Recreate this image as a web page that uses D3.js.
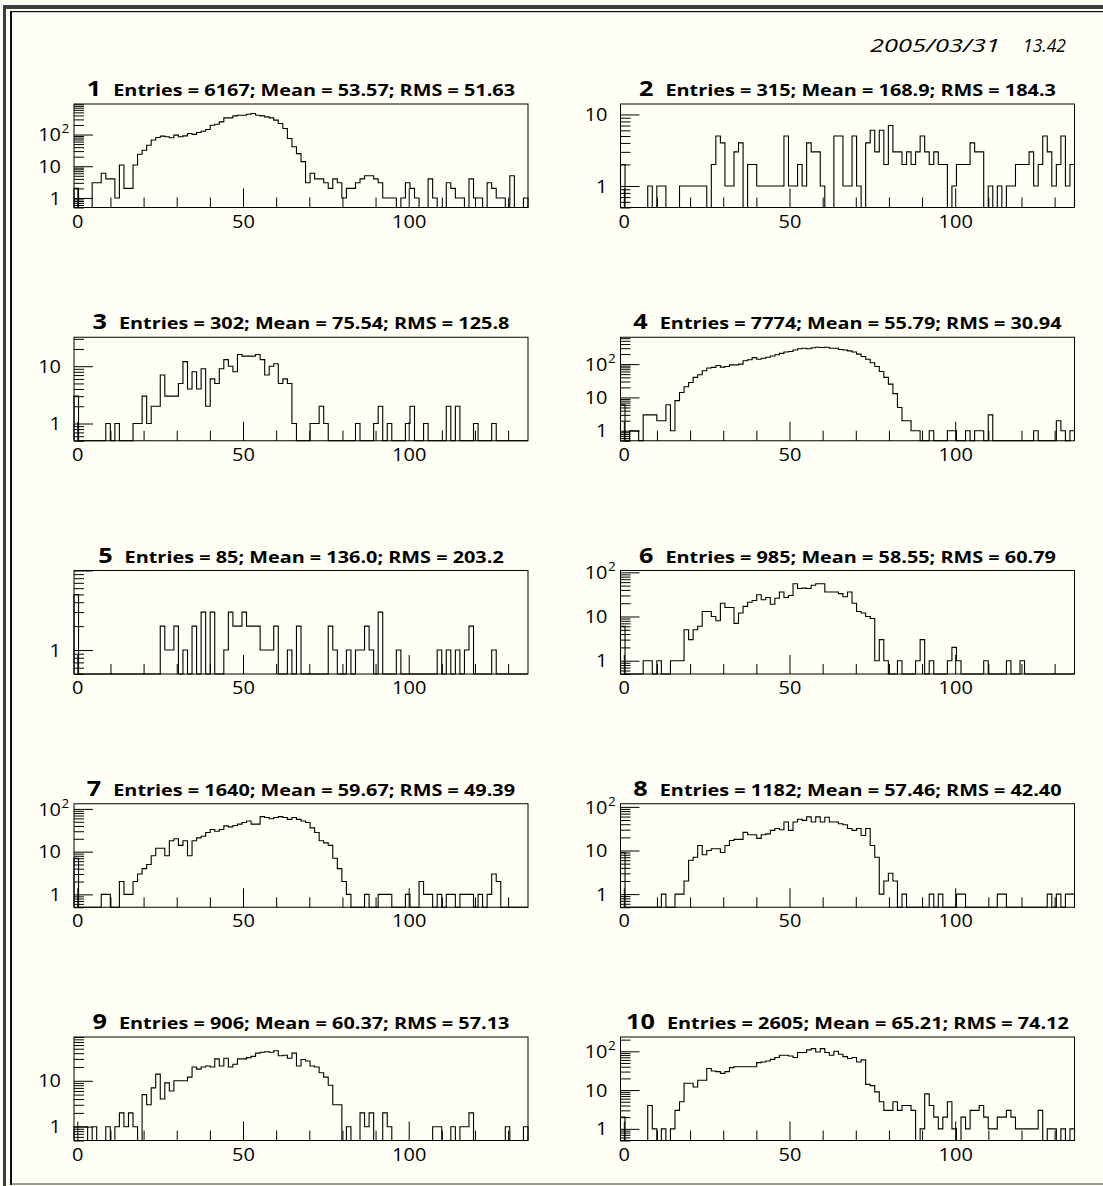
<!DOCTYPE html>
<html>
<head>
<meta charset="utf-8">
<script src="https://cdn.jsdelivr.net/npm/d3@7"></script>
<style>
  html, body { margin: 0; padding: 0; background: #fffff6; }
  svg { display: block; }
  text { font-family: "Open Sans", "Noto Sans", sans-serif; fill: #000; }
</style>
</head>
<body>
<script>
// Bin contents, 100 bins from -1 to 136 for each pad
const h1 = [2,0,0,0,3,3,6,4,4,1, 11,2,2,11,24,32,46,67,81,89, 85,79,96,85,91,108,101,116,127,144, 197,211,250,335,335,387,406,406,437,459, 406,387,361,335,284,223,155,75,41,25, 14,3,6,4,4,3,2,4,3,1, 2,2,3,4,5,5,4,3,1,1, 1,0,1,3,2,1,0,0,4,1, 0,0,3,2,1,1,0,4,1,1, 0,3,2,1,1,0,5,0,0,1];
const h2 = [2,0,0,0,0,0,1,0,1,1, 0,0,0,1,1,1,1,1,1,0, 2,5,4,1,1,3,4,0,2,2, 1,1,1,1,1,1,5,1,1,2, 1,4,3,3,1,0,0,5,5,1, 1,5,1,0,4,6,3,6,2,7, 3,3,2,3,2,3,5,3,2,3, 2,2,0,1,2,2,2,4,3,3, 0,1,0,1,0,1,1,2,2,2, 3,1,2,5,3,1,2,5,1,2];
const h3 = [3,0,0,0,0,0,0,1,0,1, 0,0,0,1,1,3,1,2,2,7, 3,3,3,5,12,4,8,4,9,2, 6,5,9,13,10,8,16,15,15,15, 16,13,7,10,11,5,6,5,1,0, 0,0,1,1,2,1,0,0,0,0, 0,0,1,0,0,0,1,2,0,1, 0,0,0,1,2,0,0,1,0,0, 0,0,2,0,2,0,0,0,1,0, 0,0,1,0,0,0,0,0,0,0];
const h4 = [6,0,1,1,0,3,3,3,2,2, 6,1,8,14,21,28,40,48,63,76, 80,91,81,85,95,95,100,126,135,157, 140,150,160,175,190,210,230,240,265,290, 300,290,310,320,315,320,300,300,275,265, 250,230,200,170,140,110,85,60,40,25, 13,5,2,2,1,1,0,0,1,0, 0,0,1,1,0,0,1,0,1,1, 0,3,0,0,0,0,0,0,0,0, 0,1,0,0,0,0,2,1,0,1];
const h5 = [5,0,0,0,0,0,0,0,0,0, 0,0,0,0,0,0,0,0,0,2, 1,1,2,0,1,0,2,0,3,0, 3,0,0,1,3,2,2,3,2,2, 2,1,1,1,2,0,0,1,0,2, 0,0,0,0,0,0,2,1,0,0, 1,0,1,1,2,1,0,3,0,0, 0,1,0,0,0,0,0,0,0,0, 1,0,1,0,1,0,1,2,0,0, 0,0,1,0,0,0,0,0,0,0];
const h6 = [6,0,0,0,0,1,1,0,1,0, 0,1,1,1,5,3,5,6,13,13, 10,8,20,16,16,7,12,17,21,23, 31,24,27,19,26,36,27,30,55,43, 44,43,51,55,55,36,36,36,33,28, 36,20,13,12,10,9,1,3,1,0, 0,1,0,0,0,1,3,0,1,0, 0,0,1,2,1,0,0,0,0,0, 1,0,0,0,0,1,0,0,1,0, 0,0,0,0,0,0,0,0,0,0];
const h7 = [7,0,0,0,0,0,1,1,0,0, 2,1,1,2,3,4,5,8,12,12, 8,18,20,14,18,8,18,21,23,28, 33,30,33,40,38,41,44,48,52,44, 44,66,63,59,63,66,63,57,63,57, 52,48,36,28,18,16,14,7,4,2, 1,0,0,0,1,0,0,1,1,1, 0,0,0,1,0,0,2,1,1,0, 1,0,1,1,0,1,1,1,0,1, 0,1,3,2,0,0,0,0,0,0];
const h8 = [9,0,0,0,0,0,0,0,0,1, 0,0,1,1,2,6,7,13,8,10, 11,11,9,13,17,18,18,26,23,23, 19,23,24,29,32,30,45,29,45,52, 49,59,45,59,45,58,45,45,41,39, 32,29,32,22,32,13,7,1,2,3, 2,0,1,0,0,0,0,0,1,0, 1,0,0,0,1,1,0,0,0,0, 0,0,0,1,1,0,0,0,0,0, 0,0,0,0,1,0,1,0,1,1];
const h9 = [1,1,1,0,1,0,0,1,0,1, 2,1,2,1,0,5,3,7,14,4, 9,6,10,10,10,12,20,18,20,21, 20,30,21,31,20,23,30,30,32,34, 40,42,43,42,45,35,36,31,40,21, 29,27,21,20,15,12,8,3,3,0, 1,0,0,2,1,2,0,0,2,1, 0,0,0,0,0,0,0,0,0,1, 1,0,0,1,0,1,1,2,0,0, 0,0,0,0,0,1,0,0,0,1];
const h10 = [2,0,0,0,0,0,4,1,0,1, 0,1,3,5,15,15,12,18,18,36, 31,30,27,30,38,40,40,40,40,40, 51,53,56,62,69,79,79,76,69,93, 93,109,117,96,117,93,79,100,84,73, 65,69,53,60,14,13,9,5,3,3, 5,3,4,4,3,0,1,8,4,2, 1,2,5,1,0,2,1,3,3,4, 2,1,1,2,2,3,2,1,1,1, 1,1,3,0,1,1,0,1,0,1];

const histograms = [h1, h2, h3, h4, h5, h6, h7, h8, h9, h10];
const padNumbers = ["1", "2", "3", "4", "5", "6", "7", "8", "9", "10"];
const statTexts = [
  "Entries = 6167; Mean = 53.57; RMS = 51.63",
  "Entries = 315; Mean = 168.9; RMS = 184.3",
  "Entries = 302; Mean = 75.54; RMS = 125.8",
  "Entries = 7774; Mean = 55.79; RMS = 30.94",
  "Entries = 85; Mean = 136.0; RMS = 203.2",
  "Entries = 985; Mean = 58.55; RMS = 60.79",
  "Entries = 1640; Mean = 59.67; RMS = 49.39",
  "Entries = 1182; Mean = 57.46; RMS = 42.40",
  "Entries = 906; Mean = 60.37; RMS = 57.13",
  "Entries = 2605; Mean = 65.21; RMS = 74.12"
];
const xRange = [-1, 136];
const xMajorTicks = [0, 50, 100];
const xMinorTicks = [10, 20, 30, 40, 60, 70, 80, 90, 110, 120, 130];
const dateText = "2005/03/31";
const timeText = "13.42";

const W = 1103, H = 1186;
const svg = d3.select("body").append("svg").attr("width", W).attr("height", H);

// canvas background and frame
svg.append("rect").attr("width", W).attr("height", H).attr("fill", "#fffff6");
svg.append("rect").attr("x", 3).attr("y", 5).attr("width", W - 3).attr("height", 4).attr("fill", "#3c3c3c");
svg.append("rect").attr("x", 3).attr("y", 5).attr("width", 3).attr("height", H - 5).attr("fill", "#3c3c3c");
svg.append("rect").attr("x", 10).attr("y", 11).attr("width", 2).attr("height", 1174).attr("fill", "#111");
svg.append("rect").attr("x", 10).attr("y", 11).attr("width", W - 10).attr("height", 1.2).attr("fill", "#111");
svg.append("rect").attr("x", 10).attr("y", 1183.5).attr("width", W - 10).attr("height", 1).attr("fill", "#333");

// date stamp
svg.append("text").attr("x", 870).attr("y", 52).attr("font-size", 18).attr("font-style", "italic")
  .attr("textLength", 130).attr("lengthAdjust", "spacingAndGlyphs").text(dateText);
svg.append("text").attr("x", 1023).attr("y", 52).attr("font-size", 18).attr("font-style", "italic")
  .attr("textLength", 43).attr("lengthAdjust", "spacingAndGlyphs").text(timeText);

const frameW = 454, frameH = 103.5;
const colX = [74, 620.5];
const rowY = r => 104 + 233.25 * r;
const labelStretch = 1.08;
const labelSize = 18.5;
const majorLen = 19, minorLen = 10;

const x = d3.scaleLinear().domain(xRange).range([0, frameW]);
const nBins = 100;
const binW = (xRange[1] - xRange[0]) / nBins;

// horizontal stretch for titles, taken from the first title's natural width
let titleStretch = 1;

histograms.forEach((data, k) => {
  const col = k % 2, row = Math.floor(k / 2);
  const g = svg.append("g").attr("transform", `translate(${colX[col]},${rowY(row)})`);

  const ymin = 0.5;
  const ymax = 2 * d3.max(data);
  const y = d3.scaleLog().domain([ymin, ymax]).range([frameH, 0]);

  // histogram outline
  const yv = v => v > 0 ? y(v) : frameH;
  let d = `M${x(xRange[0])},${frameH}`;
  data.forEach((v, i) => {
    const x0 = x(xRange[0] + i * binW), x1 = x(xRange[0] + (i + 1) * binW);
    d += `L${x0},${yv(v)}L${x1},${yv(v)}`;
  });
  d += `L${x(xRange[1])},${frameH}`;
  g.append("path").attr("d", d).attr("fill", "none").attr("stroke", "#000").attr("stroke-width", 1.1);

  // x axis ticks
  const xMinor = d3.axisBottom(x).tickValues(xMinorTicks).tickSizeInner(-minorLen).tickSizeOuter(0).tickFormat("");
  const xMajor = d3.axisBottom(x).tickValues(xMajorTicks).tickSizeInner(-majorLen).tickSizeOuter(0).tickPadding(7).tickFormat(d3.format("d"));
  [xMinor, xMajor].forEach(ax => {
    const a = g.append("g").attr("transform", `translate(0,${frameH})`).call(ax);
    a.select(".domain").remove();
    a.selectAll("line").attr("stroke", "#000").attr("stroke-width", 1);
  });
  g.selectAll(".tick text").attr("font-size", labelSize).attr("font-family", "'Open Sans', sans-serif")
    .attr("transform", `scale(${labelStretch},1)`);

  // y axis ticks (log decades and sub-decades)
  const majors = [], minors = [];
  for (let e = -1; e <= Math.ceil(Math.log10(ymax)); e++) {
    for (let m = 1; m <= 9; m++) {
      const v = m * Math.pow(10, e);
      if (v < ymin * 0.9999 || v > ymax * 1.0001) continue;
      (m === 1 ? majors : minors).push(v);
    }
  }
  const yMinor = d3.axisLeft(y).tickValues(minors).tickSizeInner(-minorLen).tickSizeOuter(0).tickFormat("");
  const yMajor = d3.axisLeft(y).tickValues(majors).tickSizeInner(-majorLen).tickSizeOuter(0).tickFormat("");
  [yMinor, yMajor].forEach(ax => {
    const a = g.append("g").call(ax);
    a.select(".domain").remove();
    a.selectAll("line").attr("stroke", "#000").attr("stroke-width", 1);
  });

  // y labels: 1, 10, 10^2 (skip a decade sitting on the top edge)
  majors.filter(v => v >= 1 && y(v) > 1.5).forEach(v => {
    const e = Math.round(Math.log10(v));
    const lg = g.append("g").attr("transform", `translate(-13,${y(v)}) scale(${labelStretch},1)`);
    if (e <= 1) {
      lg.append("text").attr("text-anchor", "end").attr("dy", "0.36em").attr("font-size", labelSize).text(e === 0 ? "1" : "10");
    } else {
      lg.append("text").attr("text-anchor", "end").attr("dy", "0.36em").attr("font-size", labelSize).text("10");
      lg.append("text").attr("x", 0.5).attr("dy", "-0.1em").attr("font-size", 12.5).text(String(e));
    }
  });

  // frame
  g.append("rect").attr("width", frameW).attr("height", frameH).attr("fill", "none").attr("stroke", "#000").attr("stroke-width", 1);

  // title: pad number and statistics
  const tg = g.append("g");
  const num = tg.append("text").attr("font-size", 21).attr("font-weight", 700).text(padNumbers[k]);
  const st = tg.append("text").attr("font-size", 16.5).attr("font-weight", 700).text(statTexts[k]);
  if (k === 0) titleStretch = 402 / st.node().getComputedTextLength();
  const wNum = num.node().getComputedTextLength() * titleStretch;
  const wSt = st.node().getComputedTextLength() * titleStretch;
  const gap = 12;
  const start = frameW / 2 - (wNum + gap + wSt) / 2;
  num.attr("transform", `translate(${start},-8) scale(${titleStretch},1)`);
  st.attr("transform", `translate(${start + wNum + gap},-8) scale(${titleStretch},1)`);
});
</script>
</body>
</html>
